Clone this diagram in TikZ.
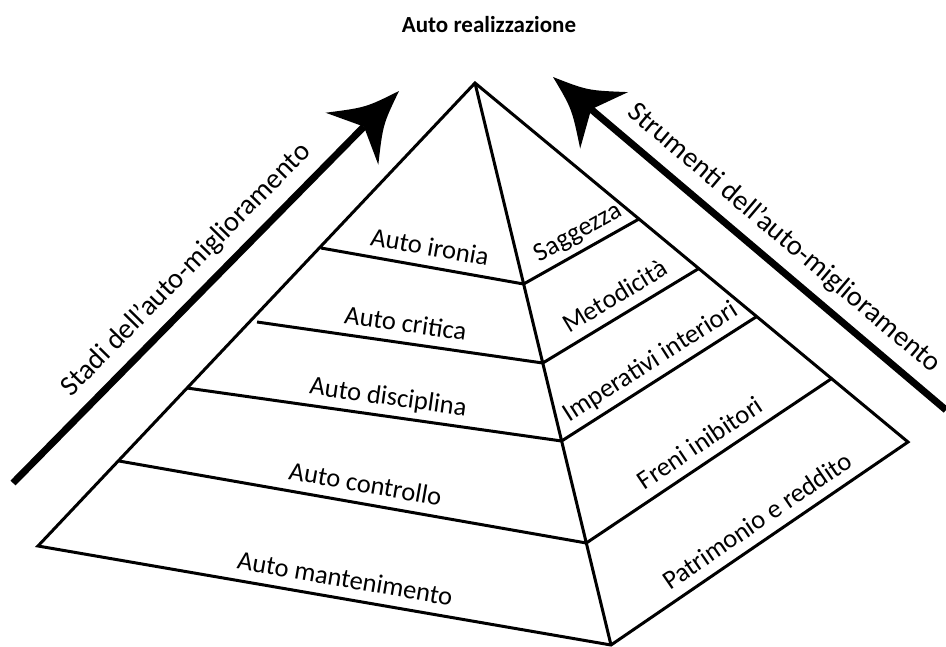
\documentclass[tikz,border=0pt]{standalone}
\usepackage{fontspec}
\setmainfont{Carlito}
\usetikzlibrary{calc}
\begin{document}
\begin{tikzpicture}[x=1pt,y=1pt,
  edge/.style={line width=3pt, line join=miter},
  lbl/.style={font=\fontsize{26.5}{30}\selectfont, inner sep=0pt, text depth=0pt},
  alabel/.style={font=\fontsize{28.5}{32}\selectfont, inner sep=1.5pt},
  ttl/.style={font=\fontsize{23}{27}\selectfont\bfseries, inner sep=0pt},
  bigarrow/.style={line width=7pt},
  head/.style={fill=black}]
\useasboundingbox (0,0) rectangle (946,-646);
% pyramid corners
\coordinate (A) at (475,-83);
\coordinate (BL) at (38,-546);
\coordinate (BF) at (611,-645);
\coordinate (BR) at (908,-442);
% ridge points
\coordinate (R1) at (523.6,-284);
\coordinate (R2) at (542.8,-363);
\coordinate (R3) at (561.6,-441);
\coordinate (R4) at (586.3,-543);
% left face ends
\coordinate (L1) at (321,-248);
\coordinate (L2) at (257,-322);
\coordinate (L3) at (187,-388);
\coordinate (L4) at (119,-461);
% right face ends
\coordinate (Q1) at (639,-219);
\coordinate (Q2) at (698,-269);
\coordinate (Q3) at (756,-317);
\coordinate (Q4) at (831,-379);
% arrows
\coordinate (LAs) at (13,-483);
\coordinate (LAt) at (399,-91);
\coordinate (RAs) at (946,-410);
\coordinate (RAt) at (553,-77);

\node[ttl] (T) at (489,-25) {Auto realizzazione};

\draw[edge] (BL) -- (A) -- (BR) -- (BF) -- cycle;
\draw[edge] (A) -- (BF);
\draw[edge] (L1) -- (R1) -- (Q1);
\draw[edge] (L2) -- (R2) -- (Q2);
\draw[edge] (L3) -- (R3) -- (Q3);
\draw[edge] (L4) -- (R4) -- (Q4);

\path (L1) -- (R1) node[lbl, pos=0.52, sloped, above=11pt] (t1) {Auto ironia};
\path (L2) -- (R2) node[lbl, pos=0.51, sloped, above=11pt] (t2) {Auto critica};
\path (L3) -- (R3) node[lbl, pos=0.53, sloped, above=11pt] (t3) {Auto disciplina};
\path (L4) -- (R4) node[lbl, pos=0.52, sloped, above=11pt] (t4) {Auto controllo};
\path (BL) -- (BF) node[lbl, pos=0.53, sloped, above=11pt] (t5) {Auto mantenimento};

\path (R1) -- (Q1) node[lbl, pos=0.55, sloped, above=11pt] (s1) {Saggezza};
\path (R2) -- (Q2) node[lbl, pos=0.53, sloped, above=11pt] (s2) {Metodicità};
\path (R3) -- (Q3) node[lbl, pos=0.51, sloped, above=11pt] (s3) {Imperativi interiori};
\path (R4) -- (Q4) node[lbl, pos=0.51, sloped, above=11pt] (s4) {Freni inibitori};
\path (BF) -- (BR) node[lbl, pos=0.53, sloped, above=11pt] (s5) {Patrimonio e reddito};

% left arrow
\draw[bigarrow] (LAs) -- ($(LAt)!50pt!(LAs)$);
\fill[head, shift={(LAt)}, rotate=45.4] (0,0) .. controls (-35,12) .. (-67,37) -- (-50,0) -- (-67,-37) .. controls (-35,-12) .. (0,0) -- cycle;
\path (LAs) -- (LAt) node[alabel, pos=0.497, sloped, above=12pt] (la) {Stadi dell’auto-miglioramento};
% right arrow
\draw[bigarrow] (RAs) -- ($(RAt)!50pt!(RAs)$);
\fill[head, shift={(RAt)}, rotate=139.7] (0,0) .. controls (-35,12) .. (-67,37) -- (-50,0) -- (-67,-37) .. controls (-35,-12) .. (0,0) -- cycle;
\path (RAt) -- (RAs) node[alabel, pos=0.545, sloped, above=12pt] (ra) {Strumenti dell’auto-miglioramento};
\end{tikzpicture}
\end{document}
